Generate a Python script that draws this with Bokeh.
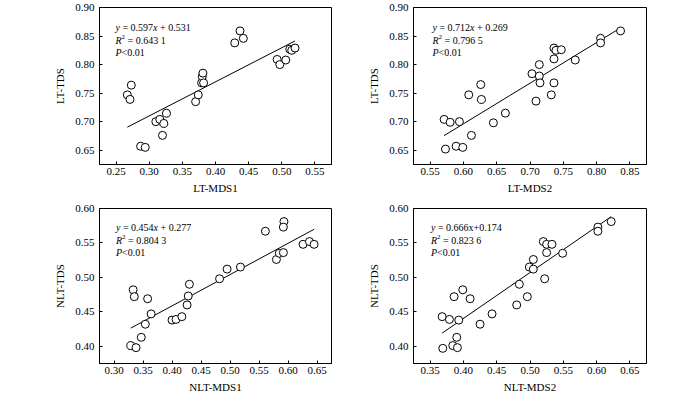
from bokeh.plotting import figure
from bokeh.models import Label, FixedTicker, Range1d, Spacer
from bokeh.layouts import column, row
from bokeh.embed import file_html
from bokeh.resources import INLINE

# ---------------- data ----------------
lt_mds1 = [0.267, 0.273, 0.271, 0.287, 0.294, 0.310, 0.316, 0.322, 0.320, 0.326,
           0.370, 0.374, 0.379, 0.380, 0.381, 0.382, 0.429, 0.437, 0.442,
           0.493, 0.497, 0.506, 0.512, 0.515, 0.520]
lt_tds_a = [0.747, 0.764, 0.739, 0.657, 0.655, 0.700, 0.704, 0.697, 0.676, 0.715,
            0.735, 0.747, 0.768, 0.779, 0.785, 0.768, 0.838, 0.859, 0.846,
            0.809, 0.800, 0.808, 0.827, 0.825, 0.829]

lt_mds2 = [0.571, 0.580, 0.594, 0.573, 0.589, 0.599, 0.612, 0.608, 0.626, 0.627,
           0.645, 0.663, 0.703, 0.714, 0.714, 0.715, 0.709, 0.732, 0.736, 0.736,
           0.736, 0.739, 0.747, 0.768, 0.806, 0.806, 0.836]
lt_tds_b = [0.704, 0.699, 0.700, 0.652, 0.657, 0.655, 0.676, 0.747, 0.765, 0.739,
            0.698, 0.715, 0.784, 0.800, 0.780, 0.768, 0.736, 0.747, 0.768, 0.810,
            0.829, 0.825, 0.826, 0.808, 0.846, 0.838, 0.859]

nlt_mds1 = [0.329, 0.338, 0.347, 0.354, 0.364, 0.333, 0.335, 0.358, 0.400, 0.407,
            0.417, 0.426, 0.428, 0.430, 0.482, 0.495, 0.518, 0.561, 0.580, 0.585,
            0.592, 0.593, 0.592, 0.626, 0.637, 0.645]
nlt_tds_a = [0.401, 0.398, 0.413, 0.432, 0.447, 0.482, 0.472, 0.469, 0.438, 0.439,
             0.443, 0.460, 0.473, 0.490, 0.498, 0.512, 0.515, 0.567, 0.526, 0.535,
             0.536, 0.581, 0.573, 0.548, 0.552, 0.548]

nlt_mds2 = [0.369, 0.368, 0.379, 0.393, 0.384, 0.390, 0.391, 0.386, 0.399, 0.410,
            0.425, 0.443, 0.480, 0.484, 0.496, 0.499, 0.505, 0.505, 0.522, 0.520,
            0.525, 0.525, 0.533, 0.549, 0.602, 0.602, 0.622]
nlt_tds_b = [0.397, 0.443, 0.439, 0.438, 0.401, 0.413, 0.398, 0.472, 0.482, 0.469,
             0.432, 0.447, 0.460, 0.490, 0.472, 0.515, 0.526, 0.512, 0.498, 0.552,
             0.548, 0.536, 0.548, 0.535, 0.573, 0.567, 0.581]

slopes = [0.597, 0.712, 0.454, 0.666]
intercepts = [0.531, 0.269, 0.277, 0.174]
r2_texts = ["0.643 1", "0.796 5", "0.804 3", "0.823 6"]
eq_texts = [(" = 0.597", "x", " + 0.531"), (" = 0.712", "x", " + 0.269"),
            (" = 0.454", "x", " + 0.277"), (" = 0.666x+0.174", "", "")]
p_text = "<0.01"

x_titles = ["LT-MDS1", "LT-MDS2", "NLT-MDS1", "NLT-MDS2"]
y_titles = ["LT-TDS", "LT-TDS", "NLT-TDS", "NLT-TDS"]

xticks = [[0.25, 0.30, 0.35, 0.40, 0.45, 0.50, 0.55],
          [0.55, 0.60, 0.65, 0.70, 0.75, 0.80, 0.85],
          [0.30, 0.35, 0.40, 0.45, 0.50, 0.55, 0.60, 0.65],
          [0.35, 0.40, 0.45, 0.50, 0.55, 0.60, 0.65]]
yticks = [[0.65, 0.70, 0.75, 0.80, 0.85, 0.90],
          [0.65, 0.70, 0.75, 0.80, 0.85, 0.90],
          [0.40, 0.45, 0.50, 0.55, 0.60],
          [0.40, 0.45, 0.50, 0.55, 0.60]]
xranges = [(0.225, 0.575), (0.525, 0.875), (0.275, 0.675), (0.325, 0.675)]
yranges = [(0.625, 0.90), (0.625, 0.90), (0.375, 0.60), (0.375, 0.60)]

# ---------------- styling ----------------
FONT = "Liberation Serif"
NBSP = "\u00a0"
ROMAN = {' ': .25, '.': .25, '=': .564, '+': .564, '<': .564, 'x': .5, 'y': .5,
         'R': .667, 'P': .556}
ITAL = {'x': .444, 'y': .444, 'R': .611, 'P': .611}


def text_w(s, size, italic=False):
    w = 0.0
    for ch in s:
        if italic and ch in ITAL:
            w += ITAL[ch]
        else:
            w += ROMAN.get(ch, .5)
    return w * size


def put_line(p, x0, y, parts):
    cx = x0
    for txt, italic, size, dy in parts:
        if not txt:
            continue
        p.add_layout(Label(x=cx, y=y + dy, x_units="screen", y_units="screen",
                           text=txt.replace(" ", NBSP), text_font=FONT,
                           text_font_size=f"{size}px",
                           text_font_style="italic" if italic else "normal",
                           text_baseline="middle", text_align="left",
                           text_color="black"))
        cx += text_w(txt, size, italic)


def make_panel(i, xs, ys, width, height, bl, br, bt, bb, tx):
    p = figure(width=width, height=height, output_backend="svg",
               toolbar_location=None, tools="",
               x_range=Range1d(*xranges[i]), y_range=Range1d(*yranges[i]),
               min_border_left=bl, min_border_right=br,
               min_border_top=bt, min_border_bottom=bb)
    p.xgrid.visible = False
    p.ygrid.visible = False
    p.background_fill_color = "white"
    p.border_fill_color = "white"
    p.outline_line_color = "black"
    p.outline_line_alpha = 1.0
    p.outline_line_width = 1

    p.xaxis.ticker = FixedTicker(ticks=xticks[i])
    p.yaxis.ticker = FixedTicker(ticks=yticks[i])
    p.xaxis.major_label_overrides = {t: f"{t:.2f}" for t in xticks[i]}
    p.yaxis.major_label_overrides = {t: f"{t:.2f}" for t in yticks[i]}
    p.xaxis.axis_label = x_titles[i]
    p.yaxis.axis_label = y_titles[i]
    for ax in (p.xaxis, p.yaxis):
        ax.axis_line_color = "black"
        ax.major_tick_line_color = "black"
        ax.major_tick_in = 3
        ax.major_tick_out = 0
        ax.minor_tick_in = 0
        ax.minor_tick_out = 0
        ax.minor_tick_line_color = None
        ax.major_label_text_font = FONT
        ax.major_label_text_font_size = "11px"
        ax.major_label_text_color = "black"
        ax.axis_label_text_font = FONT
        ax.axis_label_text_font_size = "11px"
        ax.axis_label_text_font_style = "normal"
        ax.axis_label_text_color = "black"
    p.xaxis.major_label_standoff = 3
    p.xaxis.axis_label_standoff = 4
    p.yaxis.major_label_standoff = 5
    p.yaxis.axis_label_standoff = 6

    # regression line over the data span
    x_lo, x_hi = min(xs), max(xs)
    p.line([x_lo, x_hi], [slopes[i] * x_lo + intercepts[i], slopes[i] * x_hi + intercepts[i]],
           line_color="black", line_width=1)
    p.scatter(xs, ys, marker="circle", size=8, fill_color="white",
              line_color="black", line_width=1)

    fh = height - bt - bb
    y1, y2, y3 = fh - 20, fh - 32.5, fh - 45
    e1, e2, e3 = eq_texts[i]
    put_line(p, tx, y1, [("y", True, 10, 0), (e1, False, 10, 0),
                         (e2, True, 10, 0), (e3, False, 10, 0)])
    put_line(p, tx, y2, [("R", True, 10, 0), ("2", False, 7, 3.5),
                         (" = " + r2_texts[i], False, 10, 0)])
    put_line(p, tx, y3, [("P", True, 10, 0), (p_text, False, 10, 0)])
    return p


# Bokeh's file template sets a zero page margin: frames placed from the window origin
p1 = make_panel(0, lt_mds1, lt_tds_a, 314, 202, 60, 22, 7, 38, 16)
p2 = make_panel(1, lt_mds2, lt_tds_b, 303, 202, 60, 10, 7, 38, 19)
p3 = make_panel(2, nlt_mds1, nlt_tds_a, 314, 193, 60, 22, 6, 31, 16.5)
p4 = make_panel(3, nlt_mds2, nlt_tds_b, 303, 193, 60, 10, 6, 31, 17.5)

layout = column(row(Spacer(width=39, height=202), p1, p2),
                row(Spacer(width=39, height=193), p3, p4))

open("out.html", "w").write(file_html(layout, INLINE))
